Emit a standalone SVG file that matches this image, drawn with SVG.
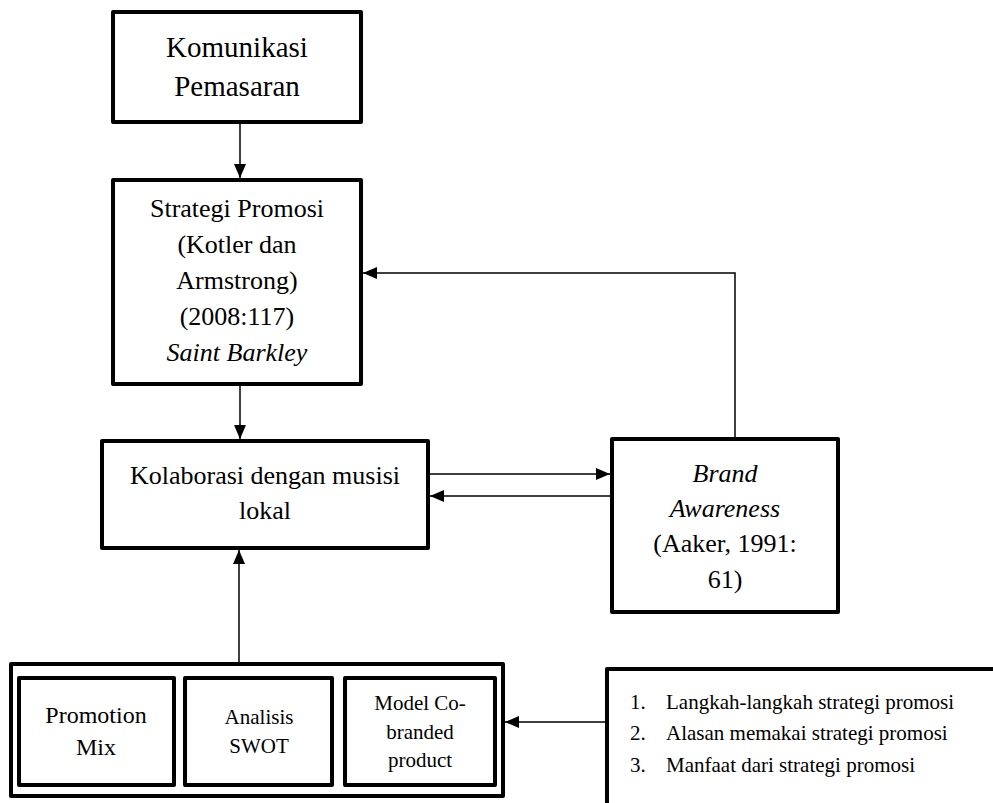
<svg xmlns="http://www.w3.org/2000/svg" width="993" height="803" viewBox="0 0 993 803">
<defs>
<style>
.box{fill:#fff;stroke:#000;stroke-width:4;stroke-linejoin:round}
.ln{fill:none;stroke:#000;stroke-width:1.5}
text{font-family:"Liberation Serif","Times New Roman",serif;fill:#000;text-anchor:middle}
.t26{font-size:26px}
.t29{font-size:29px}
.t24{font-size:24px}
.t21{font-size:21px}
.it{font-style:italic}
.lst{font-size:21px;text-anchor:start}
</style>
<marker id="ah" markerWidth="14" markerHeight="12" refX="14" refY="6" orient="auto" markerUnits="userSpaceOnUse">
<path d="M0,0 L14,6 L0,12 Z" fill="#000"/>
</marker>
</defs>
<rect width="993" height="803" fill="#fff"/>
<g id="connectors">
<line class="ln" x1="240" y1="124" x2="240" y2="178" marker-end="url(#ah)"/>
<line class="ln" x1="240" y1="386" x2="240" y2="439" marker-end="url(#ah)"/>
<polyline class="ln" points="735,437 735,273 363,273" marker-end="url(#ah)"/>
<line class="ln" x1="430" y1="474" x2="610" y2="474" marker-end="url(#ah)"/>
<line class="ln" x1="610" y1="496" x2="430" y2="496" marker-end="url(#ah)"/>
<line class="ln" x1="239" y1="662" x2="239" y2="550" marker-end="url(#ah)"/>
<line class="ln" x1="605" y1="722" x2="505" y2="722" marker-end="url(#ah)"/>
</g>
<g id="komunikasi">
<rect class="box" x="113" y="12" width="248" height="110"/>
<text class="t29" x="237" y="57">Komunikasi</text>
<text class="t29" x="237" y="96">Pemasaran</text>
</g>
<g id="strategi">
<rect class="box" x="113" y="180" width="248" height="204"/>
<text class="t26" x="237" y="217">Strategi Promosi</text>
<text class="t26" x="237" y="253">(Kotler dan</text>
<text class="t26" x="237" y="289">Armstrong)</text>
<text class="t26" x="237" y="325">(2008:117)</text>
<text class="t26 it" x="237" y="361">Saint Barkley</text>
</g>
<g id="kolaborasi">
<rect class="box" x="102" y="441" width="326" height="107"/>
<text class="t26" x="265" y="484">Kolaborasi dengan musisi</text>
<text class="t26" x="265" y="519">lokal</text>
</g>
<g id="brand">
<rect class="box" x="612" y="439" width="226" height="173"/>
<text class="t26 it" x="725" y="482">Brand</text>
<text class="t26 it" x="725" y="517">Awareness</text>
<text class="t26" x="725" y="552">(Aaker, 1991:</text>
<text class="t26" x="725" y="588">61)</text>
</g>
<g id="group">
<rect class="box" x="11" y="664" width="492" height="132"/>
</g>
<g id="promotion-mix">
<rect class="box" x="19" y="678" width="155" height="107"/>
<text class="t24" x="96" y="723">Promotion</text>
<text class="t24" x="96" y="755">Mix</text>
</g>
<g id="swot">
<rect class="box" x="185" y="678" width="147" height="107"/>
<text class="t21" x="259" y="724">Analisis</text>
<text class="t21" x="259" y="753">SWOT</text>
</g>
<g id="cobranded">
<rect class="box" x="345" y="678" width="150" height="107"/>
<text class="t21" x="420" y="710">Model Co-</text>
<text class="t21" x="420" y="739">branded</text>
<text class="t21" x="420" y="767">product</text>
</g>
<g id="list">
<rect class="box" x="607" y="669" width="420" height="200"/>
<text class="lst" x="630" y="709">1.</text>
<text class="lst" x="666" y="709">Langkah-langkah strategi promosi</text>
<text class="lst" x="630" y="740">2.</text>
<text class="lst" x="666" y="740">Alasan memakai strategi promosi</text>
<text class="lst" x="630" y="772">3.</text>
<text class="lst" x="666" y="772">Manfaat dari strategi promosi</text>
</g>
</svg>
